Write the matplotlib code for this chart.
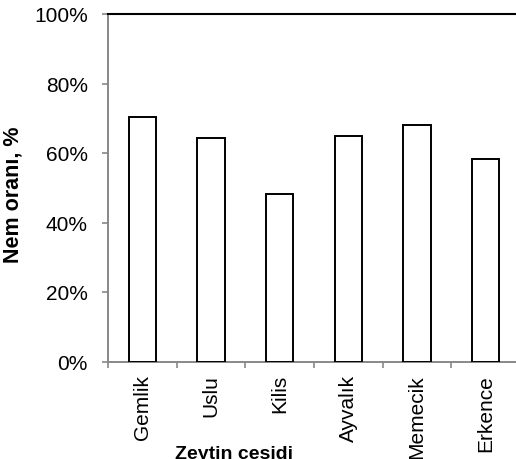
import matplotlib.pyplot as plt
import numpy as np
from matplotlib.ticker import FuncFormatter, FixedLocator

plt.rcParams['font.family'] = ['Liberation Sans', 'DejaVu Sans']

cesit = ["Gemlik", "Uslu", "Kilis", "Ayvalık", "Memecik", "Erkence"]
nem = [0.705, 0.642, 0.483, 0.649, 0.681, 0.583]

fig = plt.figure(figsize=(5.16, 4.6), dpi=100)
# axes spans slightly beyond the right edge like the original
ax = fig.add_axes([108 / 516, 1 - 362.5 / 460, 412 / 516, 347.5 / 460])

x = np.arange(len(cesit)) + 0.5
ax.bar(x, nem, width=0.4, color="white", edgecolor="black", linewidth=1.4, zorder=3)

ax.set_xlim(0, len(cesit))
ax.set_ylim(0, 1)
ax.yaxis.set_major_locator(FixedLocator([0, 0.2, 0.4, 0.6, 0.8, 1.0]))
ax.yaxis.set_major_formatter(FuncFormatter(lambda v, p: f"{v * 100:.0f}%"))

ax.set_xticks(np.arange(len(cesit) + 1))
ax.set_xticklabels([])
ax.set_xticks(x, minor=True)
ax.set_xticklabels(cesit, minor=True, rotation=90, fontsize=15)
ax.tick_params(axis="x", which="minor", length=0, pad=9)
ax.tick_params(axis="x", which="major", length=4.5, width=1.2, color="#888888", direction="out")
ax.tick_params(axis="y", length=4.5, width=1.2, color="#888888", direction="out",
               labelsize=15, pad=10)

for s in ["left", "bottom"]:
    ax.spines[s].set_color("#888888")
    ax.spines[s].set_linewidth(1.4)
ax.spines["top"].set_color("black")
ax.spines["top"].set_linewidth(1.5)
ax.spines["right"].set_visible(False)

ax.set_ylabel("Nem oranı, %", fontsize=15.5, fontweight="bold")
ax.yaxis.set_label_coords((24 - 108) / 412, 0.482)
fig.text(234 / 516, 1 - 446 / 460, "Zeytin çeşidi", fontsize=14, fontweight="bold",
         ha="center", va="top")

fig.savefig("out.png", dpi=100)
